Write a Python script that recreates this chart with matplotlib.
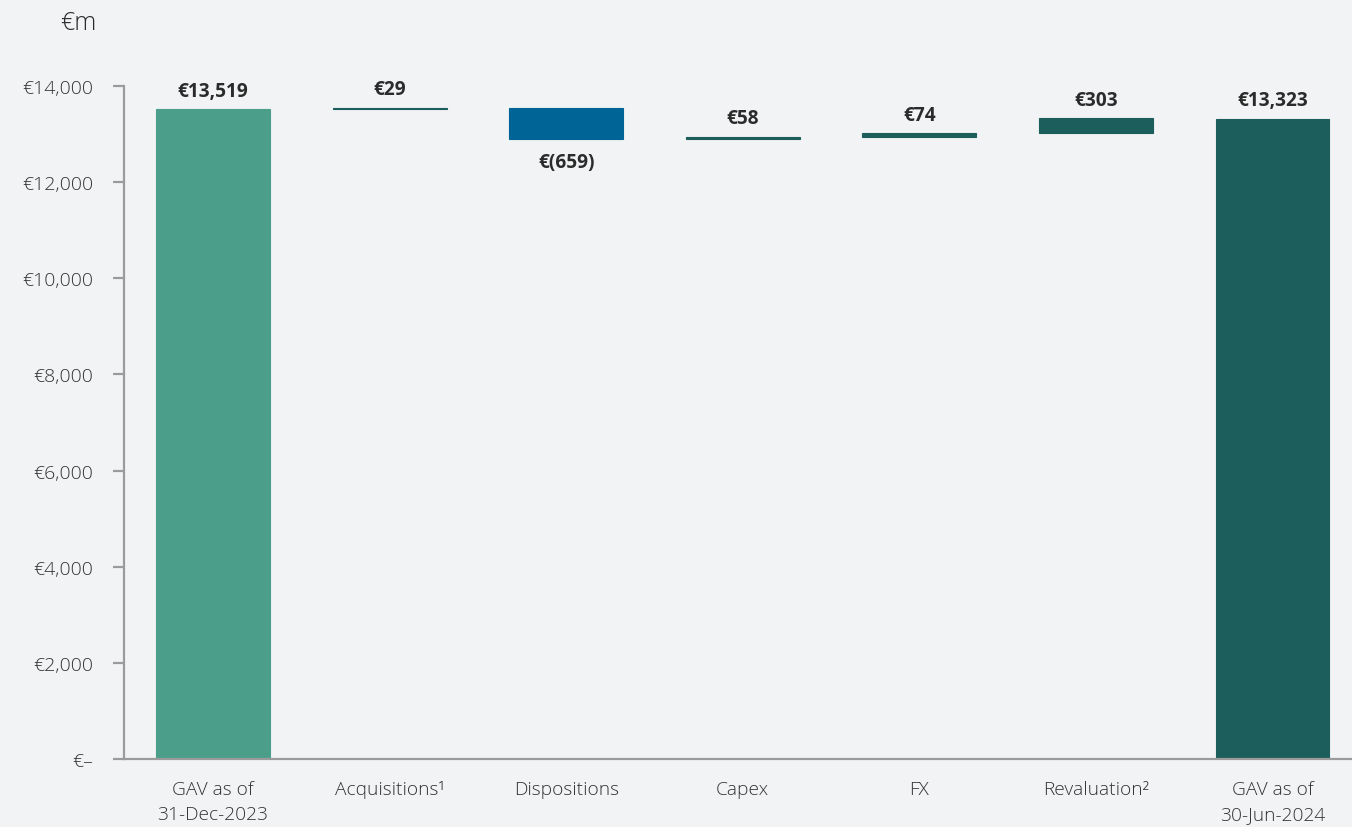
import matplotlib
matplotlib.use("Agg")
import matplotlib.pyplot as plt
import numpy as np

categories = ["GAV as of\n31-Dec-2023", "Acquisitions\u00b9", "Dispositions", "Capex", "FX",
              "Revaluation\u00b2", "GAV as of\n30-Jun-2024"]
start_value = 13519
changes = [29, -659, 58, 74, 303]
end_value = 13323
value_labels = ["€13,519", "€29", "€(659)", "€58", "€74", "€303", "€13,323"]
yticks = [0, 2000, 4000, 6000, 8000, 10000, 12000, 14000]
ytick_labels = ["€–", "€2,000", "€4,000", "€6,000", "€8,000", "€10,000", "€12,000", "€14,000"]

bg = "#f2f3f5"
c_start = "#4a9e8a"
c_pos = "#1c5e5b"
c_neg = "#006496"
c_end = "#1c5e5b"
axis_c = "#9b9b9b"
text_c = "#2b2b2b"

# waterfall geometry from data
cum = start_value + np.cumsum([0] + changes)
bottoms = [0]
heights = [start_value]
colors = [c_start]
for i, ch in enumerate(changes):
    prev = cum[i]
    if ch >= 0:
        bottoms.append(prev)
        heights.append(ch)
        colors.append(c_pos)
    else:
        bottoms.append(prev + ch)
        heights.append(-ch)
        colors.append(c_neg)
bottoms.append(0)
heights.append(end_value)
colors.append(c_end)
signs = [1] + [1 if c >= 0 else -1 for c in changes] + [1]

fig = plt.figure(figsize=(13.52, 8.28), dpi=100, facecolor=bg)
ax = fig.add_axes([124/1352, 1-760/828, 1-124/1352, (760-87)/828])
ax.set_facecolor(bg)

x = np.arange(len(categories))
ax.bar(x, heights, bottom=bottoms, width=0.645, color=colors, edgecolor=colors, linewidth=0.8)

for xi, b, h, s, lab in zip(x, bottoms, heights, signs, value_labels):
    if s > 0:
        ax.annotate(lab, (xi, b + h), xytext=(0, 6), textcoords="offset points",
                    ha="center", va="bottom", fontsize=13.8, fontweight="bold",
                    family="Open Sans", color=text_c)
    else:
        ax.annotate(lab, (xi, b), xytext=(0, -9), textcoords="offset points",
                    ha="center", va="top", fontsize=13.8, fontweight="bold",
                    family="Open Sans", color=text_c)

ax.set_xlim(-0.504, 6.45)
ax.set_ylim(0, 14000)
ax.set_yticks(yticks)
ax.set_yticklabels(ytick_labels)
ax.set_xticks(x)
ax.set_xticklabels(categories)

for sp in ["top", "right"]:
    ax.spines[sp].set_visible(False)
for sp in ["left", "bottom"]:
    ax.spines[sp].set_color(axis_c)
    ax.spines[sp].set_linewidth(1.6)

ax.tick_params(axis="y", length=8, width=1.6, color=axis_c, pad=14, labelsize=14)
ax.tick_params(axis="x", length=0, pad=15, labelsize=13.8)
for t in ax.get_yticklabels() + ax.get_xticklabels():
    t.set_family("Open Sans")
    t.set_fontweight("light")
    t.set_color("#333333")
    t.set_linespacing(1.5)

fig.text(60/1352, 1-23/828, "€m", ha="left", va="center", fontsize=18,
         family="Open Sans", fontweight="light", color=text_c)

fig.savefig("out.png", dpi=100, facecolor=bg)
